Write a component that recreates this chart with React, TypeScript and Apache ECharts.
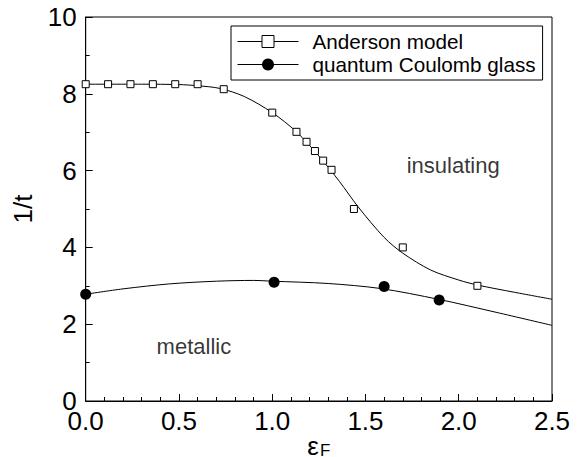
import React, { useEffect, useRef } from "react";
import * as echarts from "echarts";

// Measured data points
const andersonX = [0, 0.12, 0.24, 0.36, 0.48, 0.6, 0.74, 1.0, 1.13, 1.184, 1.229, 1.273, 1.318, 1.438, 1.7, 2.1];
const andersonY = [8.25, 8.25, 8.25, 8.25, 8.25, 8.25, 8.12, 7.51, 7.01, 6.75, 6.51, 6.26, 6.02, 5.0, 4.0, 3.0];

const coulombX = [0, 1.01, 1.6, 1.895];
const coulombY = [2.78, 3.09, 2.98, 2.63];

// Fitted curves
const andersonCurveX = [0, 0.3, 0.5, 0.6, 0.72, 0.85, 1.0, 1.13, 1.25, 1.36, 1.46, 1.6, 1.7, 1.85, 2.0, 2.1, 2.3, 2.5];
const andersonCurveY = [8.25, 8.25, 8.24, 8.21, 8.14, 7.93, 7.51, 7.01, 6.38, 5.72, 5.06, 4.26, 3.85, 3.41, 3.15, 3.02, 2.83, 2.65];

const coulombCurveX = [0, 0.2, 0.45, 0.7, 0.9, 1.0, 1.3, 1.58, 1.89, 2.2, 2.5];
const coulombCurveY = [2.78, 2.92, 3.05, 3.12, 3.14, 3.12, 3.06, 2.93, 2.65, 2.31, 1.97];

const xTicks = [0, 0.5, 1.0, 1.5, 2.0, 2.5];
const yTicks = [0, 2, 4, 6, 8, 10];

const annotations = [
  { name: "insulating", x: 1.97, y: 6.12 },
  { name: "metallic", x: 0.58, y: 1.43 },
];

const seriesNames = ["Anderson model", "quantum Coulomb glass"];

const FONT = "Liberation Sans";

const zip = (xs: number[], ys: number[]) => xs.map((x, i) => [x, ys[i]]);

export default function App() {
  const ref = useRef<HTMLDivElement>(null);
  useEffect(() => {
    if (!ref.current) return;
    const chart = echarts.init(ref.current, null, { renderer: "svg" });
    chart.setOption({
      animation: false,
      backgroundColor: "#fff",
      grid: {
        left: 85.7,
        right: 27,
        top: 17,
        bottom: 56,
        containLabel: false,
        outerBoundsMode: "none",
        show: true,
        borderColor: "#000",
        borderWidth: 1,
      },
      legend: {
        orient: "vertical",
        left: 231,
        top: 26,
        padding: [5, 7, 5, 6],
        itemGap: 2,
        itemWidth: 61,
        itemHeight: 15,
        borderColor: "#000",
        borderWidth: 1,
        backgroundColor: "#fff",
        textStyle: {
          fontFamily: FONT,
          fontSize: 20.7,
          color: "#000",
          padding: [0, 0, 0, 9],
        },
        data: [
          {
            name: seriesNames[0],
            itemStyle: { color: "#fff", borderColor: "#000", borderWidth: 1 },
            lineStyle: { color: "#000", width: 1 },
          },
          {
            name: seriesNames[1],
            itemStyle: { color: "#000", borderColor: "#000", borderWidth: 0 },
            lineStyle: { color: "#000", width: 1 },
          },
        ],
      },
      xAxis: {
        type: "value",
        min: 0,
        max: 2.5,
        interval: 0.5,
        name: "{e|ε}{s|F}",
        nameLocation: "middle",
        nameGap: 31,
        nameMoveOverlap: false,
        nameTextStyle: {
          rich: {
            e: { fontFamily: FONT, fontSize: 26, color: "#000" },
            s: { fontFamily: FONT, fontSize: 17, color: "#000", padding: [10, 0, 0, 1] },
          },
        },
        axisLine: { lineStyle: { color: "#000", width: 1 } },
        axisTick: { inside: true, length: 7, lineStyle: { color: "#000" } },
        minorTick: { show: true, splitNumber: 5, length: 4, lineStyle: { color: "#000" } },
        splitLine: { show: false },
        axisLabel: {
          fontFamily: FONT,
          fontSize: 26,
          color: "#000",
          margin: 7,
          formatter: (v: number) => (xTicks.includes(v) ? v.toFixed(1) : ""),
        },
      },
      yAxis: {
        type: "value",
        min: 0,
        max: 10,
        interval: 2,
        name: "1/t",
        nameLocation: "middle",
        nameGap: 50,
        nameRotate: 90,
        nameTextStyle: { fontFamily: FONT, fontSize: 26, color: "#000" },
        axisLine: { show: true, lineStyle: { color: "#000", width: 1 } },
        axisTick: { show: true, inside: true, length: 7, lineStyle: { color: "#000" } },
        minorTick: { show: true, splitNumber: 2, length: 4, lineStyle: { color: "#000" } },
        splitLine: { show: false },
        axisLabel: {
          fontFamily: FONT,
          fontSize: 26,
          color: "#000",
          margin: 9,
          padding: [6, 0, 0, 0],
          formatter: (v: number) => (yTicks.includes(v) ? String(v) : ""),
        },
      },
      series: [
        {
          name: seriesNames[0],
          type: "line",
          data: zip(andersonCurveX, andersonCurveY),
          smooth: 0.3,
          symbol: "rect",
          showSymbol: false,
          lineStyle: { color: "#000", width: 1 },
          itemStyle: { color: "#fff", borderColor: "#000", borderWidth: 1 },
          silent: true,
        },
        {
          name: seriesNames[1],
          type: "line",
          data: zip(coulombCurveX, coulombCurveY),
          smooth: 0.3,
          symbol: "circle",
          showSymbol: false,
          lineStyle: { color: "#000", width: 1 },
          itemStyle: { color: "#000" },
          silent: true,
        },
        {
          name: "Anderson points",
          type: "scatter",
          data: zip(andersonX, andersonY),
          symbol: "rect",
          symbolSize: 7,
          clip: false,
          itemStyle: { color: "#fff", borderColor: "#000", borderWidth: 1, opacity: 1 },
          z: 5,
        },
        {
          name: "Coulomb points",
          type: "scatter",
          data: zip(coulombX, coulombY),
          symbol: "circle",
          symbolSize: 11,
          clip: false,
          itemStyle: { color: "#000", opacity: 1 },
          z: 6,
        },
        {
          name: "annotations",
          type: "scatter",
          symbolSize: 0,
          data: annotations.map((a) => ({ name: a.name, value: [a.x, a.y] })),
          label: {
            show: true,
            position: "inside",
            formatter: (p: any) => p.name,
            fontFamily: FONT,
            fontSize: 22,
            color: "#000",
          },
          silent: true,
        },
      ],
    });
    return () => chart.dispose();
  }, []);
  return (
    <div
      ref={ref}
      style={{ position: "fixed", left: 0, top: 0, width: 579, height: 457, background: "#fff" }}
    />
  );
}
